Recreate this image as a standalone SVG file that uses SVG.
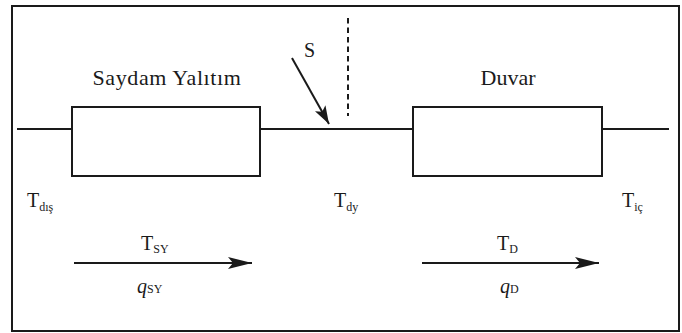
<svg xmlns="http://www.w3.org/2000/svg" width="682" height="333" viewBox="0 0 682 333">
<defs>
<marker id="ah" viewBox="0 0 24 12" refX="24" refY="6" markerWidth="24" markerHeight="12" markerUnits="userSpaceOnUse" orient="auto">
<path d="M0,0 L24,6 L0,12 L5,6 Z" fill="#1a1a1a"/>
</marker>
<marker id="ah2" viewBox="0 0 18 12" refX="18" refY="6" markerWidth="18" markerHeight="12" markerUnits="userSpaceOnUse" orient="auto">
<path d="M0,0 L18,6 L0,12 L4,6 Z" fill="#1a1a1a"/>
</marker>
</defs>
<style>
.ln{stroke:#1a1a1a;stroke-width:2;fill:none}
.bx{stroke:#1a1a1a;stroke-width:2;fill:#fff}
.lbl{font-size:22px}
.big{font-size:20px}
.sub{font-size:12px}
</style>
<rect x="0" y="0" width="682" height="333" fill="#fff"/>
<rect x="12" y="6" width="667" height="325" class="ln"/>
<g id="connectors">
<line x1="17" y1="129" x2="72" y2="129" class="ln"/>
<line x1="260" y1="129" x2="413" y2="129" class="ln"/>
<line x1="602" y1="129" x2="669" y2="129" class="ln"/>
<line x1="348" y1="18" x2="348" y2="116" class="ln" stroke-dasharray="5.5,4"/>
<line x1="292" y1="58" x2="329" y2="124" class="ln" marker-end="url(#ah2)"/>
<line x1="74" y1="263" x2="252" y2="263" class="ln" marker-end="url(#ah)"/>
<line x1="422" y1="263" x2="599" y2="263" class="ln" marker-end="url(#ah)"/>
</g>
<g font-family="'Liberation Serif', 'DejaVu Serif', serif" fill="#1a1a1a">
<g id="saydam">
<rect x="72" y="107" width="188" height="69" class="bx"/>
<text x="167" y="85" class="lbl" text-anchor="middle" letter-spacing="0.6">Saydam Yalıtım</text>
</g>
<g id="duvar">
<rect x="413" y="107" width="189" height="69" class="bx"/>
<text x="508" y="85" class="lbl" text-anchor="middle">Duvar</text>
</g>
<g id="S"><text x="304" y="57" class="big">S</text></g>
<g id="Tdis"><text x="27" y="207" class="big">T<tspan class="sub" dy="4">dış</tspan></text></g>
<g id="Tdy"><text x="334" y="207" class="big">T<tspan class="sub" dy="4">dy</tspan></text></g>
<g id="Tic"><text x="622" y="207" class="big">T<tspan class="sub" dy="4">iç</tspan></text></g>
<g id="TSY"><text x="141" y="250" class="big">T<tspan class="sub" dy="3">SY</tspan></text></g>
<g id="qSY"><text x="137" y="293" class="big"><tspan font-style="italic">q</tspan><tspan class="sub">SY</tspan></text></g>
<g id="TD"><text x="497" y="250" class="big">T<tspan class="sub" dy="3">D</tspan></text></g>
<g id="qD"><text x="500" y="293" class="big"><tspan font-style="italic">q</tspan><tspan class="sub">D</tspan></text></g>
</g>
</svg>
